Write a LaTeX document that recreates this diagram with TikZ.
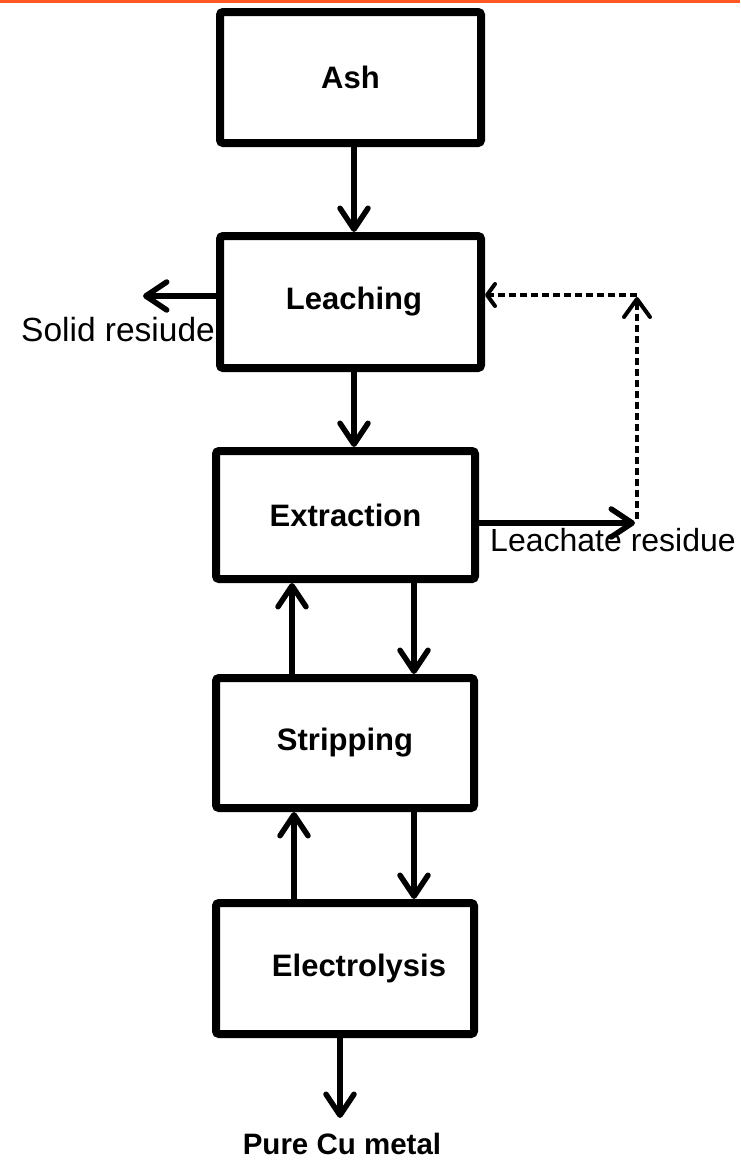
\documentclass[tikz,border=0pt]{standalone}
\usepackage{fontspec}
\setmainfont{Liberation Sans}
\usetikzlibrary{arrows.meta}
\definecolor{topline}{RGB}{255,87,34}
\begin{document}
\begin{tikzpicture}[x=1pt,y=-1pt,
  box/.style={draw, line width=8pt, rounded corners=3pt, fill=white, inner sep=0pt,
    font=\bfseries\fontsize{31}{37}\selectfont},
  plain/.style={inner sep=0pt, font=\fontsize{32}{38}\selectfont},
  arr/.style={line width=5.5pt, -{Straight Barb[length=21pt,width=28pt,round]}},
  dasharr/.style={line width=4pt, dash pattern=on 7pt off 4pt, -{Straight Barb[length=18pt,width=26pt,round]}},
  dashshort/.style={line width=4pt, dash pattern=on 7pt off 4pt, -{Straight Barb[length=8pt,width=22pt,round]}}]
\useasboundingbox (0,0) rectangle (740,1162);
\fill[topline] (0,0) rectangle (740,2.5);

\node[box, minimum width=261pt, minimum height=131pt] (ash)   at (350.5,77.5) {Ash};
\node[box, minimum width=261pt, minimum height=132pt] (leach) at (350.5,302) {\hspace*{7pt}Leaching};
\node[box, minimum width=259pt, minimum height=128pt] (extr)  at (345.5,515) {Extraction};
\node[box, minimum width=258pt, minimum height=130pt] (strip) at (345,743) {Stripping};
\node[box, minimum width=258pt, minimum height=131pt] (elec)  at (345,968.5) {\hspace*{28pt}Electrolysis};

\node[plain, font=\fontsize{33.5}{40}\selectfont] (sr) at (118,330) {Solid resiude};
\node[plain] (lr) at (613,540) {Leachate residue};
\node[plain, font=\bfseries\fontsize{29.5}{35}\selectfont] (cu) at (342,1144) {Pure Cu metal};

\coordinate (srTip) at (143,296);
\coordinate (lrTip) at (635,523);
\coordinate (dashBot) at (637,519);
\coordinate (dashCorner) at (637,295);
\coordinate (cuTip) at (340,1118);

\draw[arr] ([xshift=3.5pt]ash.south) -- ([xshift=3.5pt]ash.south |- leach.north);
\draw[arr] ([xshift=3.5pt]leach.south) -- ([xshift=3.5pt]leach.south |- extr.north);
\draw[arr] ([yshift=6pt]leach.west) -- (srTip);
\draw[arr] ([yshift=-8pt]extr.east) -- (lrTip);
\draw[arr] ([xshift=68.5pt]extr.south) -- ([xshift=68.5pt]extr.south |- strip.north);
\draw[arr] ([xshift=-53pt]strip.north) -- ([xshift=-53pt]strip.north |- extr.south);
\draw[arr] ([xshift=69pt]strip.south) -- ([xshift=69pt]strip.south |- elec.north);
\draw[arr] ([xshift=-51pt]elec.north) -- ([xshift=-51pt]elec.north |- strip.south);
\draw[arr] ([xshift=-5pt]elec.south) -- (cuTip);
\draw[dasharr] (dashBot) -- ([yshift=-2pt]dashCorner);
\draw[dashshort] (dashCorner) -- (dashCorner -| leach.east);
\end{tikzpicture}
\end{document}
